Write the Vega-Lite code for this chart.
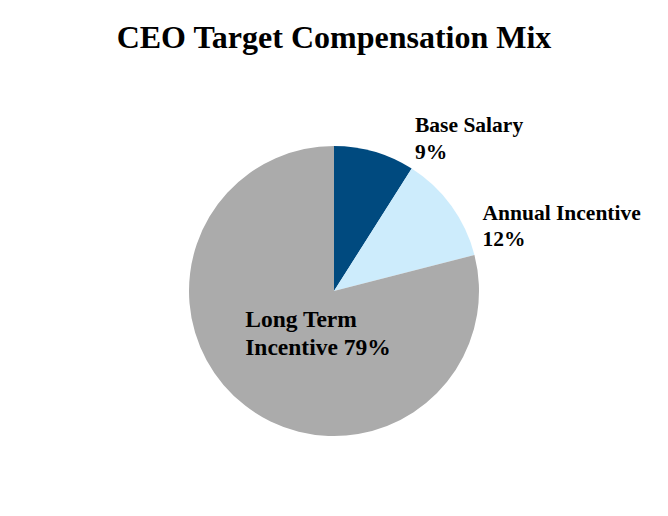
{
  "$schema": "https://vega.github.io/schema/vega-lite/v6.json",
  "width": 668,
  "height": 422,
  "autosize": {"type": "none"},
  "padding": {"top": 80, "left": 0, "right": 0, "bottom": 14},
  "background": "white",
  "title": {
    "text": "CEO Target Compensation Mix",
    "font": "Liberation Serif",
    "fontSize": 32,
    "fontWeight": "bold",
    "color": "black",
    "anchor": "middle",
    "offset": 25
  },
  "config": {"view": {"stroke": null}, "text": {"lineBreak": "\n"}},
  "data": {
    "values": [
      {"component": "Base Salary", "value": 9, "order": 1, "label": "Base Salary\n9%"},
      {"component": "Annual Incentive", "value": 12, "order": 2, "label": "Annual Incentive\n12%"},
      {"component": "Long Term Incentive", "value": 79, "order": 3, "label": "Long Term\nIncentive 79%"}
    ]
  },
  "layer": [
    {
      "mark": {"type": "arc", "outerRadius": 145},
      "encoding": {
        "theta": {"field": "value", "type": "quantitative", "stack": true},
        "order": {"field": "order", "type": "quantitative"},
        "color": {
          "field": "component",
          "type": "nominal",
          "scale": {
            "domain": ["Base Salary", "Annual Incentive", "Long Term Incentive"],
            "range": ["#004a7f", "#cdecfc", "#ababab"]
          },
          "legend": null
        }
      }
    },
    {
      "mark": {"type": "text", "radius": 165, "align": "left", "baseline": "alphabetic", "dx": 35, "dy": -1, "font": "Liberation Serif", "fontWeight": "bold", "fontSize": 21.5, "lineHeight": 27, "color": "black"},
      "encoding": {
        "theta": {"field": "value", "type": "quantitative", "stack": true},
        "order": {"field": "order", "type": "quantitative"},
        "text": {"condition": {"test": "datum.component === 'Base Salary'", "field": "label"}, "value": ""}
      }
    },
    {
      "mark": {"type": "text", "radius": 165, "align": "left", "baseline": "alphabetic", "dx": 15, "dy": 26, "font": "Liberation Serif", "fontWeight": "bold", "fontSize": 21.5, "lineHeight": 26, "color": "black"},
      "encoding": {
        "theta": {"field": "value", "type": "quantitative", "stack": true},
        "order": {"field": "order", "type": "quantitative"},
        "text": {"condition": {"test": "datum.component === 'Annual Incentive'", "field": "label"}, "value": ""}
      }
    },
    {
      "mark": {"type": "text", "radius": 60, "align": "left", "baseline": "alphabetic", "dx": -52, "dy": -11, "font": "Liberation Serif", "fontWeight": "bold", "fontSize": 23.5, "lineHeight": 28, "color": "black"},
      "encoding": {
        "theta": {"field": "value", "type": "quantitative", "stack": true},
        "order": {"field": "order", "type": "quantitative"},
        "text": {"condition": {"test": "datum.component === 'Long Term Incentive'", "field": "label"}, "value": ""}
      }
    }
  ]
}
